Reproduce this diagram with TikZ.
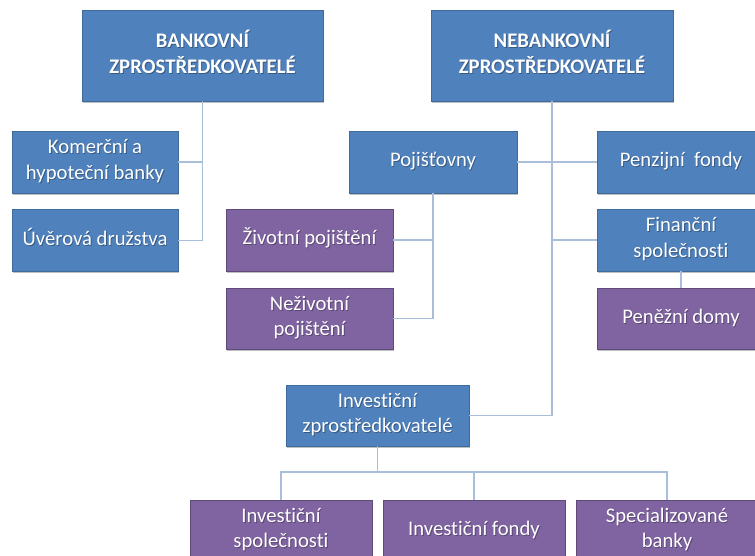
\documentclass[tikz,border=0pt]{standalone}
\usepackage{fontspec}
\setmainfont{Carlito}[Ligatures=NoCommon]
\usetikzlibrary{shadows}
\definecolor{boxblue}{HTML}{4F81BD}
\definecolor{boxblueline}{HTML}{3E6A9C}
\definecolor{boxpurple}{HTML}{8064A2}
\definecolor{boxpurpleline}{HTML}{5F4A7C}
\definecolor{linkline}{HTML}{A9BEDA}
% white label text with a faint dark shadow behind it
\newcommand\boxlabel[1]{%
  \leavevmode\rlap{\kern0.9pt\raisebox{-0.9pt}{\pgfsetfillopacity{0.3}\color{black}%
    \begin{tabular}{@{}c@{}}#1\end{tabular}}}%
  \pgfsetfillopacity{1}\color{white}\begin{tabular}{@{}c@{}}#1\end{tabular}}
\tikzset{
  box/.style={rectangle, line width=0.9pt, text=white, align=center,
    inner sep=0pt, font=\fontsize{20.7}{25.3}\selectfont,
    drop shadow={shadow xshift=1pt, shadow yshift=-1.5pt, opacity=0.25, fill=black}},
  bluebox/.style={box, draw=boxblueline, fill=boxblue},
  purplebox/.style={box, draw=boxpurpleline, fill=boxpurple},
  headbox/.style={bluebox, minimum height=91pt, font=\fontsize{20.7}{26}\selectfont\bfseries},
  link/.style={draw=linkline, line width=1.4pt},
}
\begin{document}
\begin{tikzpicture}[x=1pt, y=-1pt]
\useasboundingbox (0,0) rectangle (755,555);
\fill[white] (0,0) rectangle (755,555);
\clip (0,0) rectangle (755,555);

% top level
\node[headbox, minimum width=241pt] (bank) at (202.5,55.5) {\boxlabel{BANKOVNÍ\\ZPROSTŘEDKOVATELÉ}};
\node[headbox, minimum width=242pt] (neb) at (552,55.5) {\boxlabel{NEBANKOVNÍ\\ZPROSTŘEDKOVATELÉ}};

% banking branch
\node[bluebox, minimum width=166pt, minimum height=62pt] (kom) at (95,162) {\boxlabel{Komerční a\\hypoteční banky}};
\node[bluebox, minimum width=166pt, minimum height=62pt] (uver) at (95,240.5) {\boxlabel{Úvěrová družstva}};

% insurance
\node[bluebox, minimum width=168pt, minimum height=62pt] (poj) at (433,162) {\boxlabel{Pojišťovny}};
\node[purplebox, minimum width=167pt, minimum height=62pt] (ziv) at (309.5,240) {\boxlabel{Životní pojištění}};
\node[purplebox, minimum width=167pt, minimum height=61pt] (nez) at (309.5,318.5) {\boxlabel{Neživotní\\pojištění}};

% pension and finance companies
\node[bluebox, minimum width=168pt, minimum height=62pt] (pen) at (681,162) {\boxlabel{Penzijní~ fondy}};
\node[bluebox, minimum width=168pt, minimum height=62pt] (fin) at (681,240) {\boxlabel{Finanční\\společnosti}};
\node[purplebox, minimum width=168pt, minimum height=61pt] (dom) at (681,318.5) {\boxlabel{Peněžní domy}};

% investment
\node[bluebox, minimum width=183pt, minimum height=61pt] (inv) at (377.5,415.5) {\boxlabel{Investiční\\zprostředkovatelé}};
\node[purplebox, minimum width=182pt, minimum height=61pt] (ispol) at (281,530.5) {\boxlabel{Investiční\\společnosti}};
\node[purplebox, minimum width=182pt, minimum height=61pt] (ifond) at (474,530.5) {\boxlabel{Investiční fondy}};
\node[purplebox, minimum width=182pt, minimum height=61pt] (sbank) at (667,530.5) {\boxlabel{Specializované\\banky}};

% connectors
\path[link] (bank.south) -- (bank.south |- uver.east) -- (uver.east);
\path[link] (kom.east) -- (kom.east -| bank.south);

\path[link] (neb.south) -- (neb.south |- inv.east) -- (inv.east);
\path[link] (poj.east) -- (pen.west);
\path[link] (fin.west) -- (fin.west -| neb.south);

\path[link] (poj.south) -- (poj.south |- nez.east) -- (nez.east);
\path[link] (ziv.east) -- (ziv.east -| poj.south);

\path[link] (fin.south) -- (dom.north);

\coordinate (bus) at (377.5,472);
\path[link] (inv.south) -- (bus);
\path[link] (ispol.north) |- (bus) -| (sbank.north);
\path[link] (ifond.north) -- (ifond.north |- bus);
\end{tikzpicture}
\end{document}
